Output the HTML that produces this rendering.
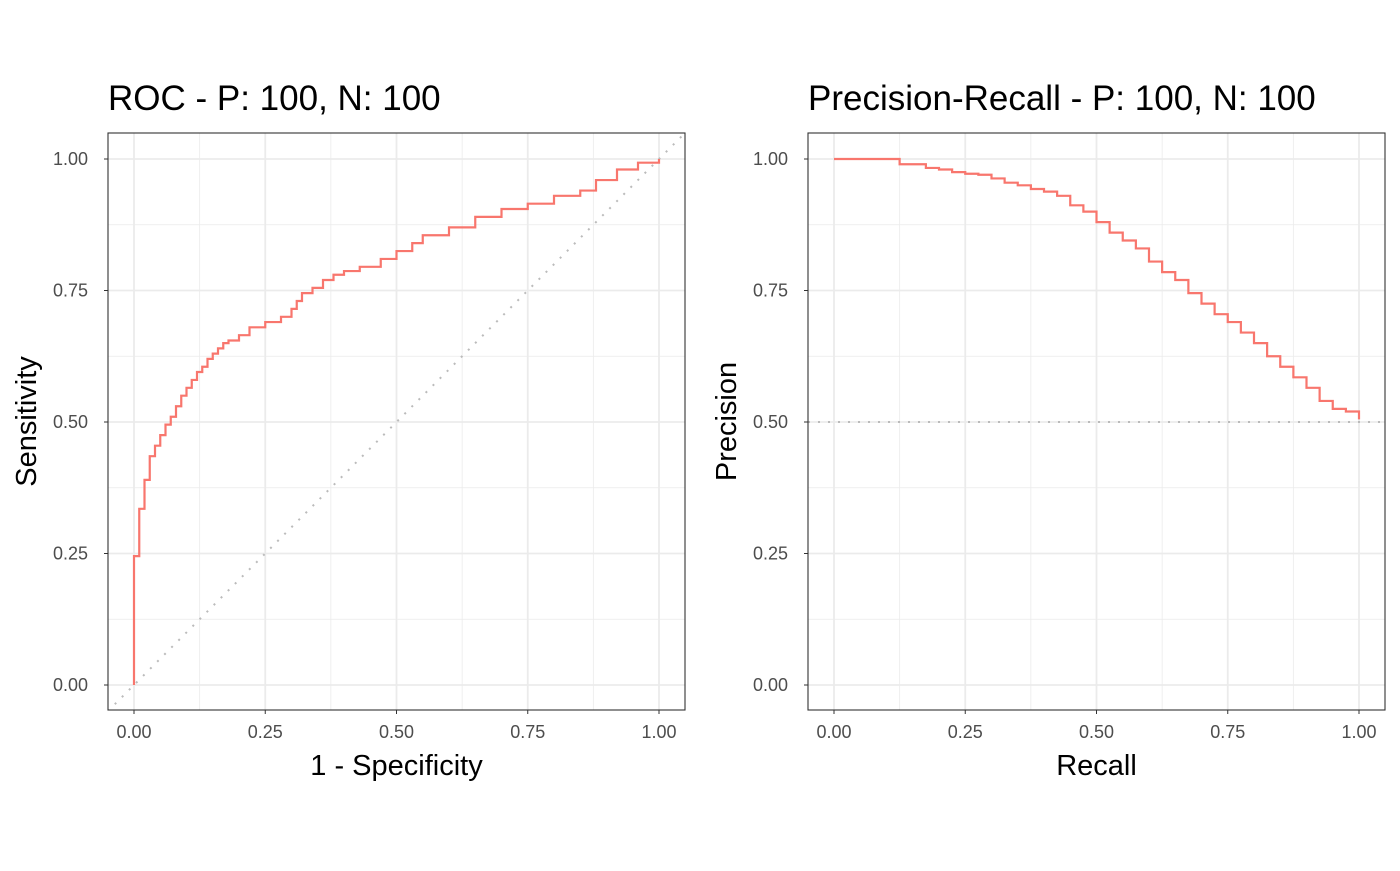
<!DOCTYPE html>
<html><head><meta charset="utf-8"><style>
body{margin:0;background:#fff}
svg{font-family:"Liberation Sans",sans-serif}
</style></head><body>
<svg id="chart" width="1400" height="866"></svg>
<script>
const rocFpr=[0,0,0.01,0.02,0.03,0.04,0.05,0.06,0.07,0.08,0.09,0.10,0.11,0.12,0.13,0.14,0.15,0.16,0.17,0.18,0.20,0.22,0.25,0.28,0.30,0.31,0.32,0.34,0.36,0.38,0.40,0.43,0.47,0.50,0.53,0.55,0.60,0.65,0.70,0.75,0.80,0.85,0.88,0.92,0.96,1.0];
const rocTpr=[0,0.245,0.335,0.39,0.435,0.455,0.475,0.495,0.51,0.53,0.55,0.565,0.58,0.595,0.605,0.62,0.63,0.64,0.65,0.655,0.665,0.68,0.69,0.70,0.715,0.73,0.745,0.755,0.77,0.78,0.787,0.795,0.81,0.825,0.84,0.855,0.87,0.89,0.905,0.915,0.93,0.94,0.96,0.98,0.993,1.0];
const prRecall=[0,0.1,0.125,0.15,0.175,0.2,0.225,0.25,0.275,0.3,0.325,0.35,0.375,0.4,0.425,0.45,0.475,0.5,0.525,0.55,0.575,0.6,0.625,0.65,0.675,0.7,0.725,0.75,0.775,0.8,0.825,0.85,0.875,0.9,0.925,0.95,0.975,1.0];
const prPrecision=[1,1,0.99,0.99,0.983,0.98,0.975,0.972,0.97,0.963,0.955,0.95,0.943,0.938,0.93,0.912,0.9,0.88,0.86,0.845,0.83,0.805,0.785,0.77,0.745,0.725,0.705,0.69,0.67,0.65,0.625,0.605,0.585,0.565,0.54,0.525,0.52,0.505];
const ticks=[0,0.25,0.5,0.75,1];
const tickLabels=["0.00","0.25","0.50","0.75","1.00"];
const NS="http://www.w3.org/2000/svg";
const svg=document.getElementById('chart');
function mk(tag,attrs,parent){const e=document.createElementNS(NS,tag);for(const k in attrs)e.setAttribute(k,attrs[k]);(parent||svg).appendChild(e);return e;}
function panel(x0,title,xt,yt,xs,ys,ref,prefix){
  const L=x0,T=133,W=577,H=577;
  const sx=v=>L+26+v*525, sy=v=>685-v*526;
  const g=mk('g',{});
  
  
  mk('rect',{x:L,y:T,width:W,height:H,fill:'#fff'},g);
  for(let i=0;i<4;i++){const v=(ticks[i]+ticks[i+1])/2;
    mk('line',{x1:sx(v),x2:sx(v),y1:T,y2:T+H,stroke:'#ebebeb','stroke-width':0.8},g);
    mk('line',{x1:L,x2:L+W,y1:sy(v),y2:sy(v),stroke:'#ebebeb','stroke-width':0.8},g);}
  ticks.forEach((v,i)=>{
    mk('line',{x1:sx(v),x2:sx(v),y1:T,y2:T+H,stroke:'#ebebeb','stroke-width':1.8},g);
    mk('line',{x1:L,x2:L+W,y1:sy(v),y2:sy(v),stroke:'#ebebeb','stroke-width':1.8},g);
    mk('line',{x1:sx(v),x2:sx(v),y1:T+H,y2:T+H+4,stroke:'#333','stroke-width':1},g);
    mk('line',{x1:L-4,x2:L,y1:sy(v),y2:sy(v),stroke:'#333','stroke-width':1},g);
    const tx=mk('text',{x:sx(v),y:T+H+28,'text-anchor':'middle','font-size':18,fill:'#4d4d4d'},g);tx.textContent=tickLabels[i];
    
    
    const ty=mk('text',{x:L-20,y:sy(v)+6,'text-anchor':'end','font-size':18,fill:'#4d4d4d'},g);ty.textContent=tickLabels[i];
    
    
  });
  const clip=mk('clipPath',{id:prefix+'clip'},g);mk('rect',{x:L,y:T,width:W,height:H},clip);
  let rl;
  if(ref==='diag') rl=mk('line',{x1:sx(-0.05),y1:sy(-0.05),x2:sx(1.05),y2:sy(1.05),stroke:'#bbb','stroke-width':2,'stroke-dasharray':'2,8','clip-path':`url(#${prefix}clip)`},g);
  else rl=mk('line',{x1:L,y1:sy(0.5),x2:L+W,y2:sy(0.5),stroke:'#bbb','stroke-width':2,'stroke-dasharray':'2,8'},g);
  
  
  let d=`M${sx(xs[0])},${sy(ys[0])}`;
  for(let i=1;i<xs.length;i++){d+=` H${sx(xs[i])} V${sy(ys[i])}`;}
  const p=mk('path',{d:d,fill:'none',stroke:'#F8766D','stroke-width':2.2},g);
  
  
  mk('rect',{x:L,y:T,width:W,height:H,fill:'none',stroke:'#333','stroke-width':1.1},g);
  const t=mk('text',{x:L,y:110,'font-size':35,fill:'#000'},g);t.textContent=title;
  
  
  const xl=mk('text',{x:L+W/2,y:775,'text-anchor':'middle','font-size':29,fill:'#000'},g);xl.textContent=xt;
  
  
  const yl=mk('text',{x:0,y:0,'text-anchor':'middle','font-size':29,fill:'#000',transform:`translate(${L-72},${T+H/2}) rotate(-90)`},g);yl.textContent=yt;
  
  
}
panel(108,'ROC - P: 100, N: 100','1 - Specificity','Sensitivity',rocFpr,rocTpr,'diag','roc');
panel(808,'Precision-Recall - P: 100, N: 100','Recall','Precision',prRecall,prPrecision,'h','pr');
</script>
</body></html>
